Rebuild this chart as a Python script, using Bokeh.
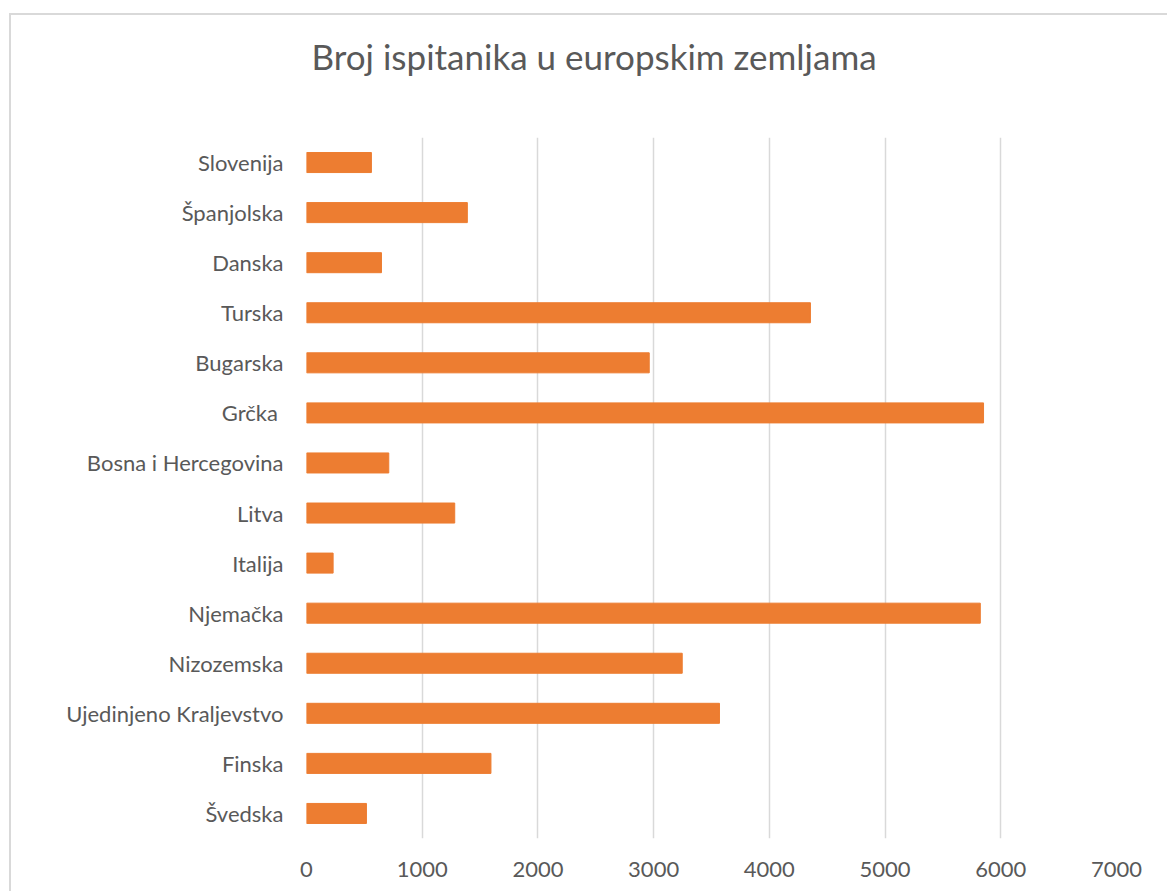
from bokeh.plotting import figure
from bokeh.models import Range1d, FactorRange, FixedTicker, Title
from bokeh.embed import file_html
from bokeh.resources import INLINE

# ---- data ----
countries = ["Slovenija", "Španjolska", "Danska", "Turska", "Bugarska", "Grčka ",
             "Bosna i Hercegovina", "Litva", "Italija", "Njemačka", "Nizozemska",
             "Ujedinjeno Kraljevstvo", "Finska", "Švedska"]
respondents = [561, 1390, 648, 4355, 2962, 5851, 711, 1281, 230, 5823, 3247, 3569, 1594, 518]
x_ticks = [0, 1000, 2000, 3000, 4000, 5000, 6000, 7000]
chart_title = "Broj ispitanika u europskim zemljama"

FONT = "Lato"
TEXT = "#595959"
GRID = "#D9D9D9"
BAR = "#ED7D31"

# canvas origin on page (after css margin + border)
ox, oy = 11, 15
W, H = 1169 - ox, 893 - oy
frame_l, frame_r, frame_t, frame_b = 306, 1116, 137, 838

p = figure(width=W, height=H,
           y_range=FactorRange(factors=countries[::-1], range_padding=0),
           x_range=Range1d(0, 7000),
           output_backend="svg", toolbar_location=None,
           min_border_left=frame_l - ox, min_border_right=ox + W - frame_r,
           min_border_top=frame_t - oy, min_border_bottom=oy + H - frame_b)

p.hbar(y=countries, right=respondents, left=0, height=0.4, color=BAR, line_color=BAR)

p.styles = {"margin-left": "9px", "margin-top": "13px",
            "border-left": "2px solid #D9D9D9", "border-top": "2px solid #D9D9D9"}

p.outline_line_color = None
p.background_fill_color = "white"
p.border_fill_color = "white"

p.xaxis.ticker = FixedTicker(ticks=x_ticks)
for ax in (p.xaxis[0], p.yaxis[0]):
    ax.axis_line_color = None
    ax.major_tick_line_color = None
    ax.minor_tick_line_color = None
    ax.major_label_text_font = FONT
    ax.major_label_text_font_size = "22px"
    ax.major_label_text_color = TEXT
p.xaxis.major_label_standoff = 17
p.yaxis.major_label_standoff = 17

p.ygrid.grid_line_color = None
p.xgrid.grid_line_color = GRID
p.xgrid.grid_line_width = 1.5

# spacer between plot area and title (nearest to the frame)
spacer = Title(text=" ", text_font_size="2px", standoff=57, text_color="white")
p.add_layout(spacer, "above")
t = Title(text=chart_title, text_font=FONT, text_font_size="35px",
          text_font_style="normal", text_color=TEXT, align="left",
          offset=5, standoff=0)
p.add_layout(t, "above")

open("out.html", "w").write(file_html(p, INLINE))
